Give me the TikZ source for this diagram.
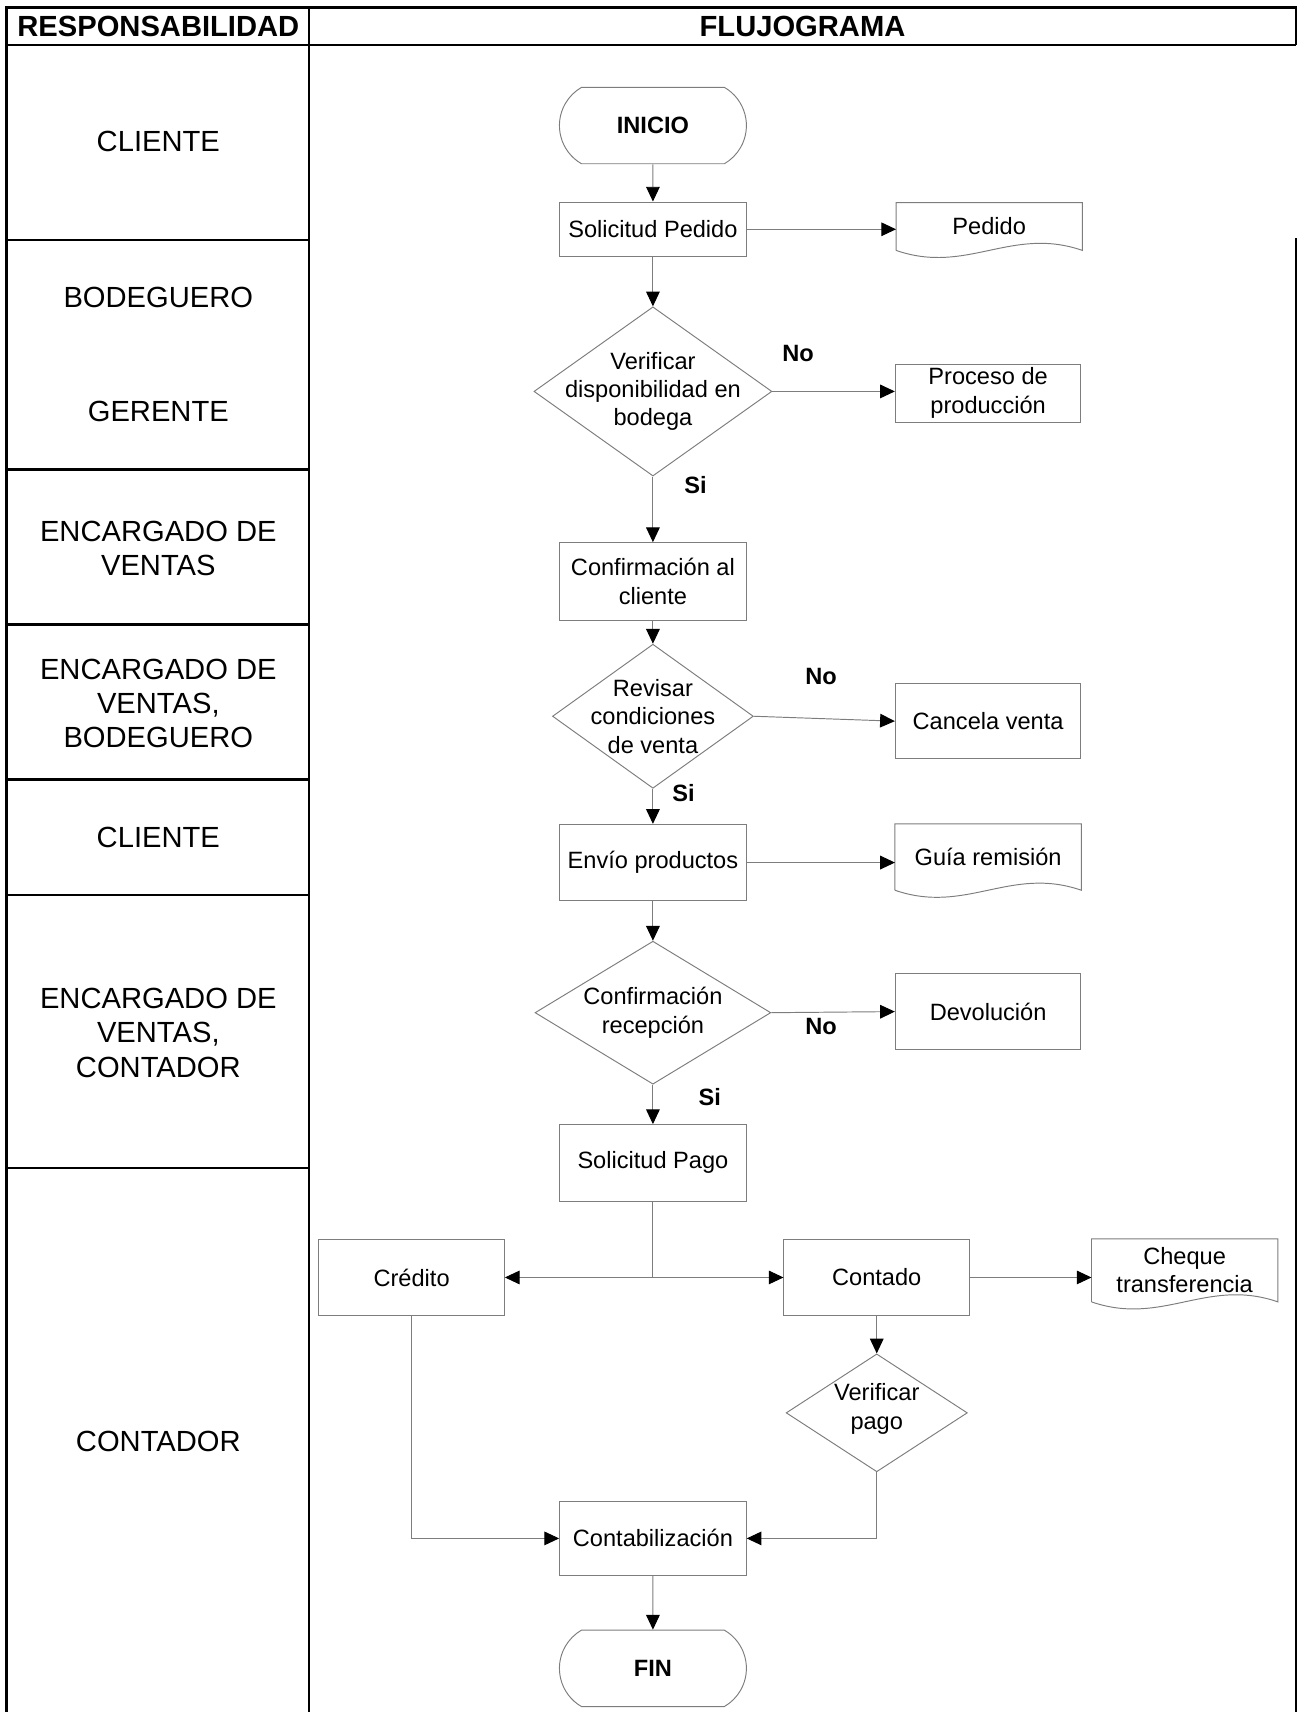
\documentclass[tikz,border=0pt]{standalone}
\usepackage{fontspec}
\setmainfont{Liberation Sans}
\usetikzlibrary{arrows.meta,positioning,shapes.geometric,shapes.misc}
\definecolor{linegray}{RGB}{125,125,125}
\newcommand{\boxfont}{\fontsize{12.3}{14.8}\selectfont}
\newcommand{\rolefont}{\fontsize{15.2}{17.8}\selectfont}
\newcommand{\docshape}[1]{%
  \draw[conn] (#1.south west) -- (#1.north west) -- (#1.north east) -- (#1.south east)
    .. controls +(-1.3cm,0.45cm) and +(1.3cm,-0.45cm) .. (#1.south west);}

\begin{document}
\begin{tikzpicture}[
  x=0.02cm, y=-0.02cm,
  font=\boxfont,
  box/.style={draw=linegray, line width=0.5pt, minimum width=3.42cm,
              minimum height=1.4cm, align=center, inner sep=2pt},
  term/.style={rounded rectangle, rounded rectangle arc length=120,
              draw=linegray, line width=0.5pt, minimum width=3.66cm,
              minimum height=1.4cm, font=\boxfont\bfseries},
  dec/.style={diamond, draw=linegray, line width=0.5pt, inner sep=0pt},
  dtext/.style={align=center, inner sep=0pt},
  doc/.style={minimum width=3.4cm, align=center, inner sep=2pt},
  lbl/.style={font=\boxfont\bfseries},
  role/.style={font=\rolefont, align=center},
  head/.style={font=\rolefont\bfseries},
  tabline/.style={line width=1.2pt},
  conn/.style={linegray, line width=0.5pt},
  ar/.style={conn, -{Triangle[length=0.27cm, width=0.25cm, color=black, fill=black]}}
]
\useasboundingbox (0,0) rectangle (1190,1568);

\draw[tabline] (6,1568) -- (6,7) -- (1187,7) -- (1187,41);
\draw[tabline] (6,41) -- (1187,41);
\draw[tabline] (283,7) -- (283,1568);
\draw[tabline] (1187,218) -- (1187,1568);
\foreach \y in {220,430,572,714,820,1070}
  \draw[tabline] (6,\y) -- (283,\y);

\node[head] (hresp) at (145,24) {RESPONSABILIDAD};
\node[head] (hflujo) at (735,24) {FLUJOGRAMA};

\node[role] (cli1) at (145,130) {CLIENTE};
\node[role] (bod) at (145,272) {BODEGUERO};
\node[role] (ger) at (145,377) {GERENTE};
\node[role] (enc1) at (145,502) {ENCARGADO DE\\ VENTAS};
\node[role] (enc2) at (145,644) {ENCARGADO DE\\ VENTAS,\\ BODEGUERO};
\node[role] (cli2) at (145,767) {CLIENTE};
\node[role] (enc3) at (145,946) {ENCARGADO DE\\ VENTAS,\\ CONTADOR};
\node[role] (cont1) at (145,1320) {CONTADOR};

\node[term] (ini) at (598,115) {INICIO};
\node[box, minimum height=1.0cm] (sol) at (598,210) {Solicitud Pedido};
\node[doc, minimum height=0.86cm] (ped) at (906,207.5) {Pedido};
\docshape{ped}

\node[dec, minimum width=4.36cm, minimum height=3.1cm] (ver) at (598,358.5) {};
\node[dtext] (vertxt) at (ver) {Verificar\\ disponibilidad en\\ bodega};
\node[box, minimum width=3.4cm, minimum height=1.0cm] (proc) at (905,360) {Proceso de\\ producción};

\node[box, minimum height=1.42cm] (conf) at (598,532.5) {Confirmación al\\ cliente};

\node[dec, minimum width=3.68cm, minimum height=2.64cm] (rev) at (598,656) {};
\node[dtext] (revtxt) at (rev) {Revisar\\ condiciones\\ de venta};
\node[box, minimum width=3.4cm, minimum height=1.38cm] (canc) at (905,660.5) {Cancela venta};

\node[box] (env) at (598,790) {Envío productos};
\node[doc, minimum height=1.2cm] (guia) at (905,785) {Guía remisión};
\docshape{guia}

\node[dec, minimum width=4.32cm, minimum height=2.62cm] (rec) at (598,927.5) {};
\node[dtext] (rectxt) at (rec) {Confirmación\\ recepción};
\node[box, minimum width=3.4cm, minimum height=1.38cm] (dev) at (905,926.5) {Devolución};

\node[box] (pago) at (598,1065) {Solicitud Pago};
\node[box, minimum width=3.4cm] (cred) at (377,1170) {Crédito};
\node[box, minimum width=3.4cm] (cont) at (803,1170) {Contado};
\node[doc, minimum height=1.14cm] (cheq) at (1085,1163.5) {Cheque\\ transferencia};
\docshape{cheq}

\node[dec, minimum width=3.32cm, minimum height=2.16cm] (vpag) at (803,1294) {};
\node[dtext] (vpagtxt) at ([yshift=0.07cm]vpag) {Verificar\\ pago};

\node[box, minimum height=1.36cm] (contab) at (598,1409) {Contabilización};
\node[term] (fin) at (598,1528) {FIN};

\node[lbl] (no1) at (731,324) {No};
\node[lbl] (si1) at (637,444) {Si};
\node[lbl] (no2) at (752,620) {No};
\node[lbl] (si2) at (626,726) {Si};
\node[lbl] (no3) at (752,940) {No};
\node[lbl] (si3) at (650,1005) {Si};

\draw[ar] (ini) -- (sol);
\draw[ar] (sol.east) -- (sol.east -| ped.west);
\draw[ar] (sol) -- (ver);
\draw[ar] (ver.east) -- (ver.east -| proc.west);
\draw[ar] (ver) -- (conf);
\draw[ar] (conf) -- (rev);
\draw[ar] (rev.east) -- (canc.west);
\draw[ar] (rev) -- (env);
\draw[ar] (env.east) -- (env.east -| guia.west);
\draw[ar] (env) -- (rec);
\draw[ar] (rec.east) -- (dev.west);
\draw[ar] (rec) -- (pago);

\coordinate (split) at (pago |- cred);
\draw[conn] (pago) -- (split);
\draw[ar] (split) -- (cred);
\draw[ar] (split) -- (cont);
\draw[ar] (cont.east) -- (cont.east -| cheq.west);
\draw[ar] (cont) -- (vpag);
\draw[ar] (cred) |- (contab);
\draw[ar] (vpag) |- (contab);
\draw[ar] (contab) -- (fin);
\end{tikzpicture}
\end{document}
